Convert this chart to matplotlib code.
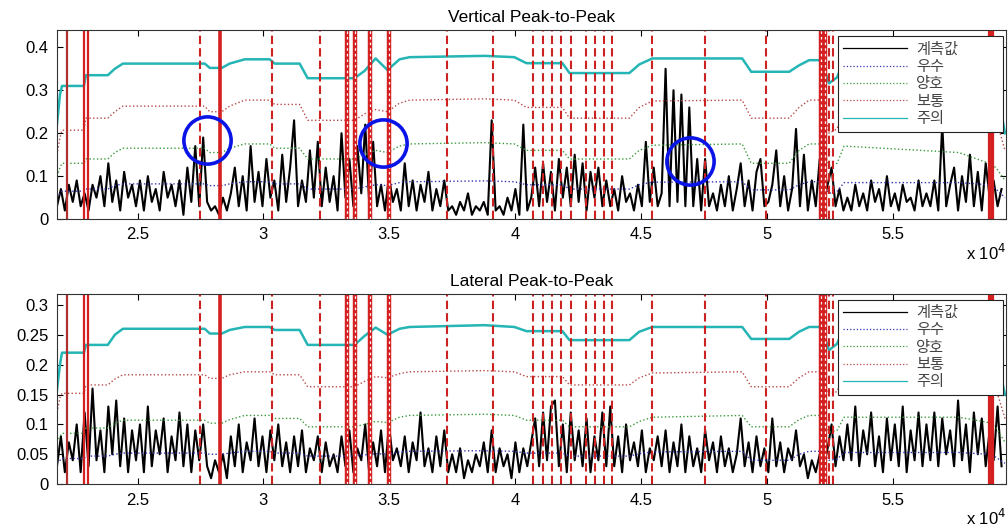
import matplotlib
matplotlib.use("Agg")
import matplotlib.pyplot as plt
import numpy as np

plt.rcParams['font.family'] = ['Liberation Sans', 'DejaVu Sans']

# ---- measured peak-to-peak signal (units of 0.01), evenly sampled ----
x_start = 21800
x_step = 157
vertical_pp = np.array([
    3, 7, 2, 8, 4, 9, 3, 6, 2, 8, 5, 10, 3, 13, 4, 9, 2, 11, 5, 8,
    3, 9, 2, 10, 4, 7, 2, 11, 5, 8, 3, 9, 1, 12, 4, 17, 3, 19, 4, 2,
    3, 1, 5, 2, 6, 12, 3, 10, 2, 17, 4, 11, 3, 14, 5, 9, 2, 15, 4, 12,
    23, 3, 9, 4, 16, 5, 18, 3, 12, 4, 10, 2, 20, 5, 14, 3, 17, 6, 22, 4,
    18, 3, 8, 2, 10, 4, 7, 2, 13, 3, 9, 2, 8, 4, 11, 2, 7, 3, 9, 2,
    3, 1, 4, 2, 6, 1, 3, 2, 4, 1, 23, 2, 3, 1, 5, 2, 7, 1, 22, 2,
    5, 12, 3, 13, 4, 11, 2, 14, 5, 12, 3, 15, 4, 13, 2, 11, 5, 12, 3, 9,
    3, 7, 2, 10, 4, 6, 2, 8, 3, 18, 4, 12, 3, 6, 35, 3, 30, 4, 29, 3,
    26, 3, 14, 2, 14, 3, 6, 2, 8, 3, 10, 2, 7, 13, 3, 9, 2, 11, 14, 3,
    4, 8, 16, 3, 10, 2, 7, 21, 3, 15, 2, 9, 3, 14, 4, 8, 12, 3, 7, 2,
    5, 2, 8, 3, 6, 2, 9, 4, 7, 2, 10, 3, 6, 2, 8, 4, 5, 2, 9, 3,
    6, 3, 9, 2, 22, 3, 8, 12, 2, 10, 4, 15, 3, 11, 2, 13, 5, 9, 3, 7,
]) / 100
lateral_pp = np.array([
    3, 8, 2, 7, 4, 10, 2, 12, 3, 16, 4, 9, 2, 13, 5, 14, 3, 11, 2, 9,
    4, 10, 2, 13, 3, 9, 5, 11, 2, 8, 4, 12, 3, 10, 2, 9, 4, 10, 3, 1,
    4, 2, 5, 1, 8, 3, 10, 2, 7, 4, 11, 3, 8, 2, 9, 4, 10, 3, 7, 2,
    8, 3, 9, 2, 6, 4, 8, 2, 7, 3, 5, 2, 8, 3, 9, 2, 6, 4, 10, 2,
    7, 3, 9, 2, 10, 4, 6, 3, 8, 2, 7, 4, 12, 3, 6, 2, 8, 3, 9, 2,
    5, 2, 6, 1, 4, 2, 5, 3, 7, 2, 9, 2, 6, 3, 5, 1, 7, 2, 6, 3,
    7, 11, 3, 12, 4, 13, 14, 3, 10, 2, 12, 4, 9, 3, 11, 2, 8, 4, 12, 3,
    13, 3, 8, 2, 10, 4, 7, 3, 9, 2, 6, 4, 8, 3, 9, 2, 7, 3, 10, 2,
    8, 3, 6, 2, 9, 4, 7, 2, 8, 3, 6, 2, 5, 11, 3, 7, 2, 8, 3, 6,
    2, 11, 3, 7, 2, 6, 4, 9, 3, 5, 1, 4, 2, 5, 3, 6, 10, 3, 8, 4,
    10, 4, 13, 3, 9, 5, 12, 3, 8, 2, 11, 4, 10, 3, 13, 2, 9, 4, 12, 3,
    10, 4, 12, 3, 11, 5, 9, 3, 14, 4, 10, 2, 12, 5, 11, 3, 9, 4, 13, 3,
]) / 100

# ---- threshold levels at breakpoints ----
thr_x = [21800, 21920, 22000, 22870, 22950, 23820, 24100, 24420, 27670, 27870,
         28350, 28660, 29260, 30250, 30450, 31440, 31760, 33620, 34020, 34460,
         34930, 35410, 35810, 38780, 39970, 40450, 41880, 42160, 44540, 44930,
         45450, 49020, 49380, 50890, 51280, 51680, 52160, 52470, 52790, 53070,
         57630, 58820, 59100, 59460]

v_caution = [0.22, 0.29, 0.31, 0.31, 0.335, 0.335, 0.35, 0.362, 0.362, 0.352, 0.352,
             0.362, 0.372, 0.372, 0.362, 0.362, 0.328, 0.328, 0.345, 0.374, 0.347,
             0.372, 0.377, 0.38, 0.377, 0.363, 0.363, 0.34, 0.34, 0.36, 0.374, 0.374,
             0.343, 0.343, 0.358, 0.37, 0.37, 0.316, 0.33, 0.37, 0.37, 0.37, 0.32, 0.2]
v_fair = [0.15, 0.19, 0.207, 0.207, 0.235, 0.235, 0.25, 0.263, 0.263, 0.25, 0.25,
          0.263, 0.277, 0.277, 0.267, 0.267, 0.23, 0.23, 0.245, 0.255, 0.25, 0.27,
          0.277, 0.28, 0.277, 0.26, 0.26, 0.235, 0.235, 0.26, 0.275, 0.277, 0.235,
          0.235, 0.26, 0.277, 0.277, 0.2, 0.21, 0.26, 0.26, 0.26, 0.235, 0.16]
v_good = [0.1, 0.12, 0.13, 0.13, 0.14, 0.14, 0.155, 0.165, 0.165, 0.155, 0.155,
          0.165, 0.175, 0.175, 0.165, 0.165, 0.14, 0.14, 0.15, 0.16, 0.155, 0.17,
          0.175, 0.178, 0.175, 0.16, 0.16, 0.14, 0.14, 0.16, 0.172, 0.175, 0.13,
          0.13, 0.16, 0.175, 0.175, 0.125, 0.13, 0.17, 0.155, 0.13, 0.12, 0.09]
v_excellent = [0.05, 0.06, 0.065, 0.065, 0.07, 0.07, 0.078, 0.082, 0.082, 0.078, 0.078,
               0.082, 0.087, 0.087, 0.082, 0.082, 0.07, 0.07, 0.075, 0.08, 0.078, 0.085,
               0.087, 0.089, 0.087, 0.08, 0.08, 0.07, 0.07, 0.08, 0.086, 0.087, 0.068,
               0.068, 0.08, 0.087, 0.087, 0.06, 0.065, 0.085, 0.085, 0.08, 0.07, 0.05]

l_caution = [0.157, 0.2, 0.22, 0.22, 0.233, 0.233, 0.25, 0.26, 0.26, 0.252, 0.252,
             0.258, 0.263, 0.263, 0.258, 0.258, 0.233, 0.233, 0.248, 0.262, 0.25, 0.26,
             0.263, 0.266, 0.263, 0.256, 0.256, 0.241, 0.241, 0.255, 0.263, 0.263, 0.243,
             0.243, 0.255, 0.263, 0.263, 0.224, 0.235, 0.263, 0.263, 0.263, 0.22, 0.15]
l_fair = [0.12, 0.145, 0.152, 0.152, 0.166, 0.166, 0.176, 0.183, 0.183, 0.177, 0.177,
          0.183, 0.188, 0.188, 0.183, 0.183, 0.163, 0.163, 0.172, 0.18, 0.178, 0.185,
          0.188, 0.19, 0.188, 0.18, 0.18, 0.166, 0.166, 0.178, 0.186, 0.188, 0.163,
          0.163, 0.178, 0.188, 0.188, 0.15, 0.155, 0.185, 0.185, 0.18, 0.16, 0.11]
l_good = [0.07, 0.08, 0.085, 0.085, 0.094, 0.094, 0.102, 0.107, 0.107, 0.102, 0.102,
          0.108, 0.115, 0.115, 0.11, 0.11, 0.096, 0.096, 0.1, 0.105, 0.103, 0.112,
          0.115, 0.117, 0.115, 0.107, 0.107, 0.096, 0.096, 0.105, 0.112, 0.115, 0.096,
          0.096, 0.108, 0.115, 0.115, 0.087, 0.09, 0.112, 0.112, 0.103, 0.095, 0.07]
l_excellent = [0.035, 0.04, 0.043, 0.043, 0.047, 0.047, 0.05, 0.052, 0.052, 0.05, 0.05,
               0.052, 0.055, 0.055, 0.052, 0.052, 0.047, 0.047, 0.049, 0.051, 0.05, 0.054,
               0.055, 0.056, 0.055, 0.052, 0.052, 0.047, 0.047, 0.051, 0.054, 0.055, 0.04,
               0.04, 0.05, 0.055, 0.055, 0.04, 0.042, 0.053, 0.053, 0.05, 0.045, 0.035]

# ---- event markers along the line ----
thin_solid = [22870, 23030]
dark_solid = [22200]
dashed_lines = [27475, 30330, 32240, 37280, 39140, 40730, 41090, 41480, 41840,
                42240, 42830, 43190, 43550, 43860, 45450, 47550, 49970, 52470, 52630]
thick_solid = [28270]
double_lines = [33310, 33630, 34220, 35010, 52160, 52320]
heavy_line = [58900]

circle_x = [27750, 34740, 46960]
circle_y = [0.184, 0.177, 0.135]

labels = ["계측값", "우수", "양호", "보통", "주의"]
xticks = [25000, 30000, 35000, 40000, 45000, 50000, 55000]
xtick_labels = ["2.5", "3", "3.5", "4", "4.5", "5", "5.5"]

fig = plt.figure(figsize=(10.08, 5.28), dpi=100)
ax1 = fig.add_axes([0.0565, 0.585, 0.9415, 0.358])
ax2 = fig.add_axes([0.0565, 0.083, 0.9415, 0.360])

panels = [
    (ax1, vertical_pp, v_excellent, v_good, v_fair, v_caution, "Vertical Peak-to-Peak",
     0.44, [0, 0.1, 0.2, 0.3, 0.4], ["0", "0.1", "0.2", "0.3", "0.4"]),
    (ax2, lateral_pp, l_excellent, l_good, l_fair, l_caution, "Lateral Peak-to-Peak",
     0.318, [0, 0.05, 0.1, 0.15, 0.2, 0.25, 0.3],
     ["0", "0.05", "0.1", "0.15", "0.2", "0.25", "0.3"]),
]

red = "#d42020"
for ax, sig, exc, good, fair, caut, title, ytop, yt, ytl in panels:
    xs = x_start + x_step * np.arange(len(sig))
    h1, = ax.plot(xs, sig, color="black", lw=1.5)
    h2, = ax.plot(thr_x, exc, ":", color="#3535b0", lw=1.0)
    h3, = ax.plot(thr_x, good, ":", color="#3a9a3a", lw=1.0)
    h4, = ax.plot(thr_x, fair, ":", color="#b84848", lw=1.0)
    h5, = ax.plot(thr_x, caut, "-", color="#25b5b5", lw=1.8)

    for xv in dark_solid:
        ax.axvline(xv, color="#b03030", lw=1.6)
    for xv in thin_solid:
        ax.axvline(xv, color=red, lw=1.6)
    for xv in dashed_lines:
        ax.axvline(xv, color="#cc2222", lw=1.5, ls=(0, (4, 2)))
    for xv in thick_solid:
        ax.axvline(xv, color=red, lw=2.6)
    for xv in double_lines:
        ax.axvline(xv, color=red, lw=3.2)
        ax.axvline(xv, color="white", lw=0.9, ls=(0, (2, 2.5)))
    for xv in heavy_line:
        ax.axvline(xv, color=red, lw=4.5)

    ax.set_xlim(21800, 59500)
    ax.set_ylim(0, ytop)
    ax.set_xticks(xticks)
    ax.set_xticklabels(xtick_labels)
    ax.set_yticks(yt)
    ax.set_yticklabels(ytl)
    ax.tick_params(direction="in", top=True, right=True, length=4, labelsize=12, pad=6)
    for s in ax.spines.values():
        s.set_linewidth(0.8)
        s.set_color("#333333")
    ax.set_title(title, fontsize=12.5, pad=6)
    ax.text(1.0, -0.18, r"x 10$^4$", transform=ax.transAxes, ha="right", va="center",
            fontsize=12)

    leg = ax.legend([h1, h2, h3, h4, h5], labels, loc="upper left",
                    bbox_to_anchor=(0.823, 0.487 if ax is ax1 else 0.49, 0.174, 0.481),
                    mode="expand", borderaxespad=0, fancybox=False, framealpha=1,
                    edgecolor="#222222", handlelength=4.2, handletextpad=0.6,
                    labelspacing=0.02, borderpad=0.3,
                    prop={"family": ["Noto Sans CJK KR", "DejaVu Sans"], "size": 11})
    leg.get_frame().set_linewidth(0.8)
    for t in leg.get_texts():
        t.set_color("#444444")
    for ln in leg.get_lines():
        ln.set_linewidth(0.9)

ax1.plot(circle_x, circle_y, "o", ms=34, mfc="none", mec="#0a14e6", mew=2.6)

fig.savefig("out.png", dpi=100)
